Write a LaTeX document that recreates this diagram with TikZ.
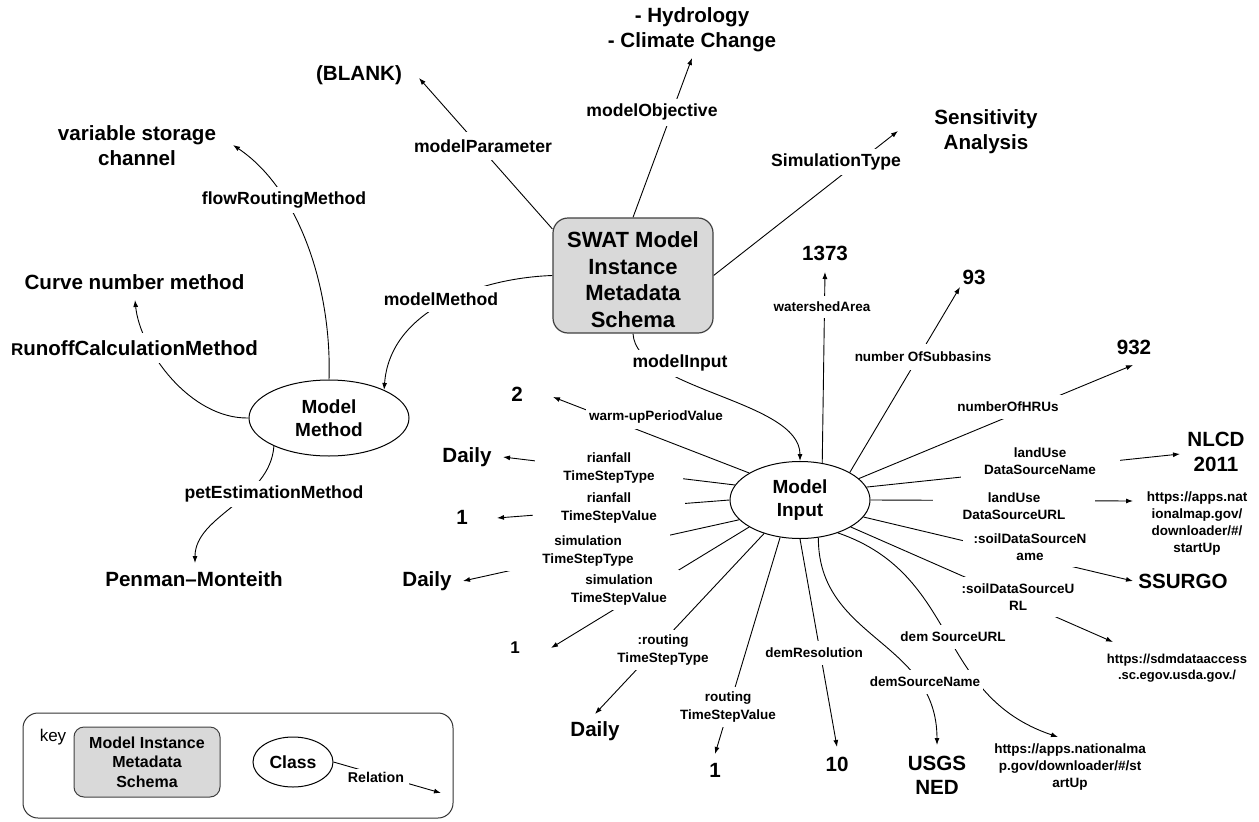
\documentclass[tikz,border=0pt]{standalone}
\usepackage{fontspec}
\setmainfont{Liberation Sans}
\usetikzlibrary{arrows.meta,shapes.geometric,backgrounds}
\begin{document}
\begin{tikzpicture}[x=1pt,y=1pt,
  schemabox/.style={draw=black!75, fill=black!15, rounded corners=15pt, line width=1.2pt,
    align=center, inner sep=0pt},
  classnode/.style={ellipse, draw, line width=1pt, align=center, inner sep=0pt,
    font=\bfseries\fontsize{19}{23}\selectfont},
  valtext/.style={align=center, inner sep=0pt, font=\bfseries\fontsize{20.6}{25}\selectfont},
  urltext/.style={align=center, inner sep=0pt, font=\bfseries\fontsize{13.5}{17}\selectfont},
  toplabel/.style={fill=white, align=center, inner xsep=3pt, inner ysep=0pt, minimum height=27pt,
    font=\bfseries\fontsize{17.6}{21}\selectfont},
  inlabel/.style={fill=white, align=center, inner xsep=3pt, inner ysep=0pt, minimum height=24pt,
    font=\bfseries\fontsize{13.5}{17.5}\selectfont},
  inlabeltwo/.style={inlabel, minimum height=40pt},
  link/.style={line width=0.9pt, -{Latex[length=7pt,width=5pt]}},
]
\useasboundingbox (0,0) rectangle (1259,-822);

% ---------- main classes ----------
\node[schemabox, minimum width=160pt, minimum height=115pt,
      font=\bfseries\fontsize{22}{26.5}\selectfont] (swat) at (633,-275.5)
  {\rule{0pt}{24.5pt}SWAT Model\\Instance\\Metadata\\Schema};
\node[classnode, minimum width=160pt, minimum height=76pt] (mm) at (329,-418) {Model\\Method};
\node[classnode, minimum width=140pt, minimum height=77pt] (mi) at (800,-500) {Model\\Input};

% ---------- values ----------
\node[valtext] (vblank) at (359,-75) {(BLANK)};
\node[valtext] (vobj) at (692,-30) {- Hydrology\\- Climate Change};
\node[valtext] (vsens) at (986,-132) {Sensitivity\\Analysis};
\node[valtext] (vfrm) at (137,-145.5) {variable storage\\channel};
\node[valtext] (vcn) at (134.5,-282) {Curve number method};
\node[valtext] (vpm) at (194,-579) {Penman--Monteith};
\node[valtext] (v1373) at (825,-253) {1373};
\node[valtext] (v93) at (974,-277) {93};
\node[valtext] (v932) at (1134,-347) {932};
\node[valtext] (vnlcd) at (1216,-452) {NLCD\\2011};
\node[urltext] (vurl1) at (1197,-524) {https://apps.nat\\ionalmap.gov/\\downloader/\#/\\startUp};
\node[valtext] (vssurgo) at (1183,-581) {SSURGO};
\node[urltext, font=\bfseries\fontsize{13}{16.5}\selectfont] (vsdm) at (1177,-668)
  {https://sdmdataaccess\\.sc.egov.usda.gov./};
\node[urltext] (vurl2) at (1070,-767) {https://apps.nationalma\\p.gov/downloader/\#/st\\artUp};
\node[valtext, font=\bfseries\fontsize{20.6}{24}\selectfont] (vusgs) at (937,-775) {USGS\\NED};
\node[valtext] (v10) at (837,-764) {10};
\node[valtext] (v1r) at (715,-770) {1};
\node[valtext] (vdr) at (595,-731) {Daily};
\node[valtext, font=\bfseries\fontsize{17}{20}\selectfont] (v1s) at (515,-648) {1};
\node[valtext] (vdss) at (427,-581) {Daily};
\node[valtext] (v1rf) at (462,-517) {1};
\node[valtext] (vdrf) at (467,-457) {Daily};
\node[valtext] (v2) at (517,-394) {2};

% ---------- relation labels ----------
\node[toplabel, minimum height=28pt] (mpar) at (483,-146) {modelParameter};
\node[toplabel] (mobj) at (652,-112) {modelObjective};
\node[toplabel, minimum height=26pt] (styp) at (836,-162) {SimulationType};
\node[toplabel, minimum height=26pt] (mmeth) at (441,-299) {modelMethod};
\node[toplabel] (minp) at (680,-363) {modelInput};
\node[toplabel, minimum height=26pt] (frm) at (284,-200) {flowRoutingMethod};
\node[toplabel, minimum height=30pt, font=\bfseries\fontsize{20.5}{24}\selectfont] (rcm) at (134.5,-348)
  {{\fontsize{17}{20}\selectfont R}unoffCalculationMethod};
\node[toplabel, minimum height=26pt] (pem) at (274,-494) {petEstimationMethod};

\node[inlabel, minimum height=22pt] (lwsa) at (822,-307) {watershedArea};
\node[inlabel, minimum height=26pt] (lnsb) at (923,-357) {number OfSubbasins};
\node[inlabel] (lhru) at (1008,-407) {numberOfHRUs};
\node[inlabeltwo, minimum width=159pt] (llun) at (1040,-461) {landUse\\DataSourceName};
\node[inlabeltwo, minimum width=162pt] (llus) at (1014,-506) {landUse\\DataSourceURL};
\node[inlabeltwo, minimum width=134pt] (lsdn) at (1030,-547) {:soilDataSourceN\\ame};
\node[inlabeltwo] (lsdu) at (1018,-597) {:soilDataSourceU\\RL};
\node[inlabel] (ldsu) at (953,-637) {dem SourceURL};
\node[inlabel] (ldsn) at (925,-682) {demSourceName};
\node[inlabel] (ldr) at (814,-653) {demResolution};
\node[inlabeltwo] (lrtv) at (728,-707) {routing\\TimeStepValue};
\node[inlabeltwo] (lrtt) at (663,-650) {:routing\\TimeStepType};
\node[inlabeltwo, minimum width=120pt] (lstv) at (619,-590) {simulation\\TimeStepValue};
\node[inlabeltwo, minimum width=164pt] (lstt) at (588,-551) {simulation\\TimeStepType};
\node[inlabeltwo, minimum width=152pt] (lrfv) at (609,-508) {rianfall\\TimeStepValue};
\node[inlabeltwo, minimum width=148pt, minimum height=38pt] (lrft) at (609,-468) {rianfall\\TimeStepType};
\node[inlabel] (lwup) at (656,-417) {warm-upPeriodValue};

% ---------- key ----------
\node[draw=black!80, line width=1pt, rounded corners=15pt, minimum width=430pt, minimum height=105pt,
      inner sep=0pt] (keybox) at (238,-765.5) {};
\node[inner sep=0pt, font=\fontsize{17}{20}\selectfont] (keyword) at (53,-737) {key};
\node[schemabox, rounded corners=10pt, line width=1pt, minimum width=146pt, minimum height=70pt,
      font=\bfseries\fontsize{16}{19.5}\selectfont] (kschema) at (147,-762)
  {Model Instance\\Metadata\\Schema};
\node[classnode, minimum width=80pt, minimum height=50pt, font=\bfseries\fontsize{17.6}{21}\selectfont]
  (kclass) at (293,-762) {Class};
\node[fill=white, inner xsep=5pt, inner ysep=2.5pt, font=\bfseries\fontsize{14.2}{17}\selectfont]
  (krel) at (376,-777) {Relation};
\coordinate (ktip) at (441,-793);

% ---------- connectors (drawn underneath the labels) ----------
\begin{scope}[on background layer]
  % from the schema box
  \draw[link] (swat.150) -- ([shift={(60,-3)}]vblank.center);
  \draw[link] (swat.north) -- ([shift={(0,-28)}]vobj.center);
  \draw[link] (swat.east) -- ([shift={(-88,1)}]vsens.center);
  \draw[link] (swat.west) .. controls (480,-278) and (390,-310) .. (mm.27);
  \draw[link] (swat.south) .. controls (636,-390) and (800,-400) .. (mi.north);
  % from Model Method
  \draw[link] (mm.north) .. controls (332,-290) and (300,-190) .. ([shift={(96,0.5)}]vfrm.center);
  \draw[link] (mm.west) .. controls (190,-419) and (140,-350) .. ([shift={(0.5,-18)}]vcn.center);
  \draw[link] (mm.207) .. controls (270,-500) and (195,-515) .. ([shift={(1,16)}]vpm.center);
  % from Model Input
  \draw[link] (mi.59) -- ([shift={(0,-19)}]v1373.center);
  \draw[link] (mi.29) -- ([shift={(-14,-10)}]v93.center);
  \draw[link] (mi.20) -- ([shift={(-1,-18)}]v932.center);
  \draw[link] (mi.11) -- ([shift={(-36,-2)}]vnlcd.center);
  \draw[link] (mi.east) -- ([shift={(-64,23)}]vurl1.center);
  \draw[link] (mi.-15) -- ([shift={(-50,0)}]vssurgo.center);
  \draw[link] (mi.-28) -- ([shift={(-64,26)}]vsdm.center);
  \draw[link] (mi.-41) .. controls (960.5,-575) and (934.5,-695.4) .. ([shift={(-12,30)}]vurl2.center);
  \draw[link] (mi.-64) .. controls (818,-640) and (937,-640) .. ([shift={(0,30)}]vusgs.center);
  \draw[link] (mi.south) -- ([shift={(0,17)}]v10.center);
  \draw[link] (mi.-118) -- ([shift={(0,16)}]v1r.center);
  \draw[link] (mi.-137) -- ([shift={(0,17)}]vdr.center);
  \draw[link] (mi.-152) -- ([shift={(36,0)}]v1s.center);
  \draw[link] (mi.-162) -- ([shift={(36,0)}]vdss.center);
  \draw[link] (mi.west) -- ([shift={(35,-1)}]v1rf.center);
  \draw[link] (mi.167) -- ([shift={(36,0)}]vdrf.center);
  \draw[link] (mi.152) -- ([shift={(36,-3)}]v2.center);
  % key
  \draw[link] (kclass.east) -- (ktip);
\end{scope}
\end{tikzpicture}
\end{document}
